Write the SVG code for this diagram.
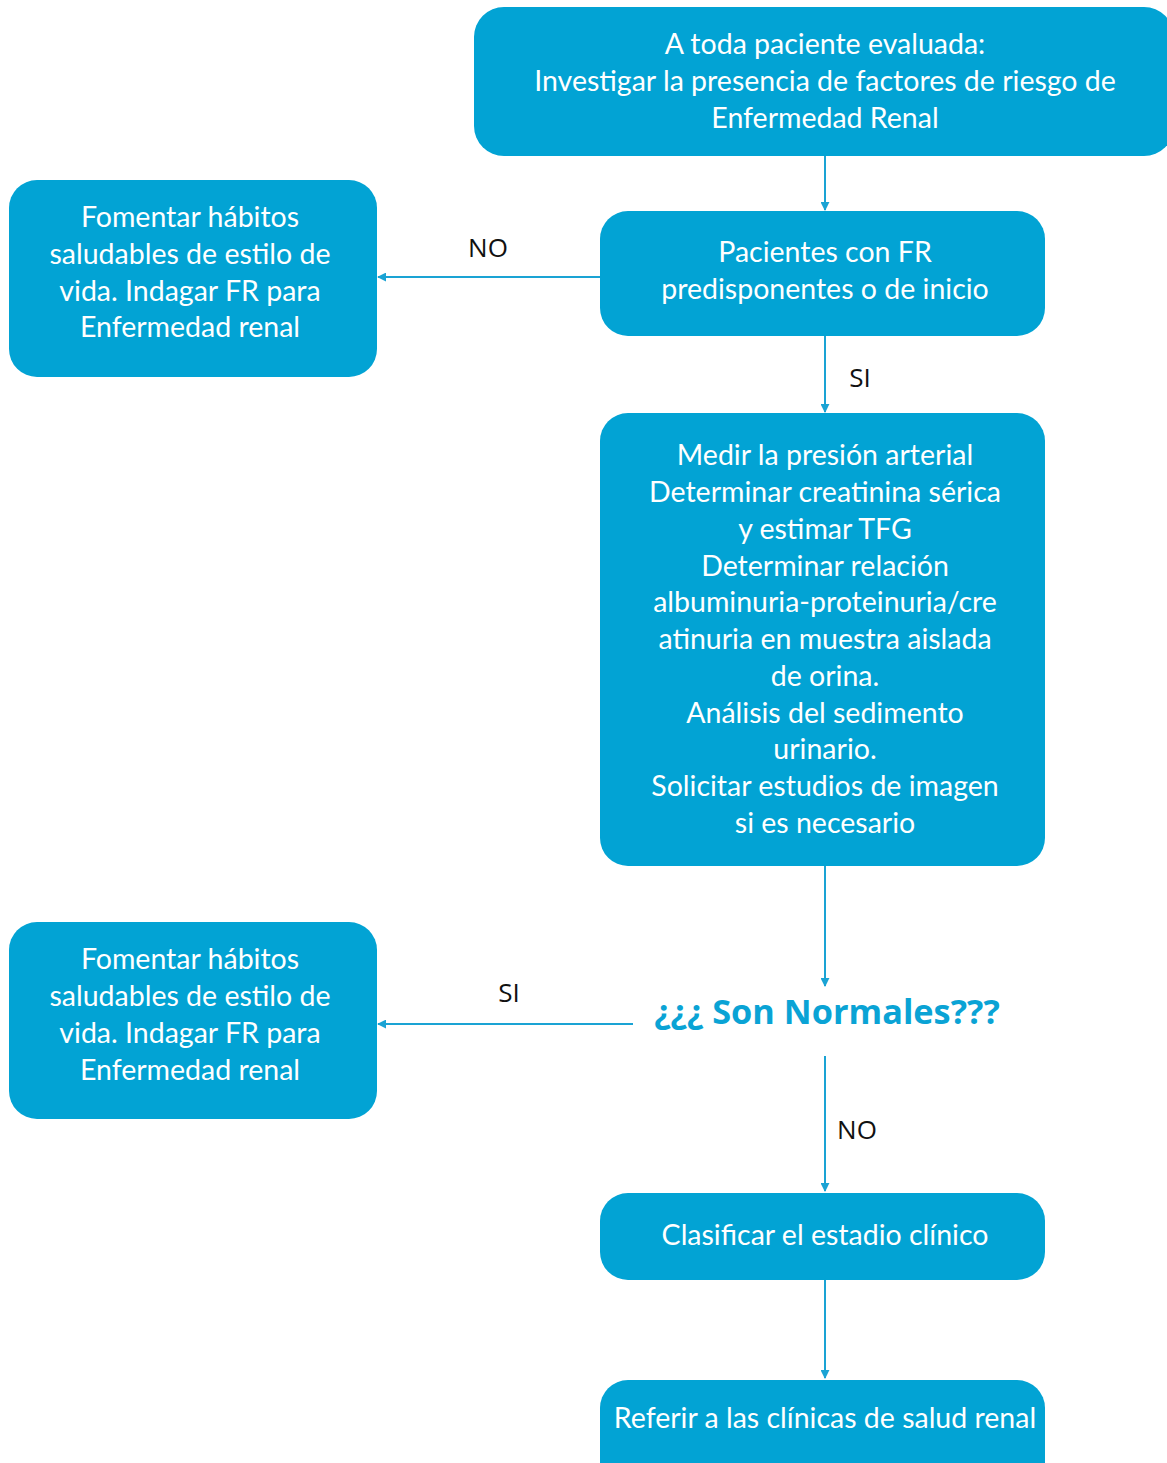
<svg xmlns="http://www.w3.org/2000/svg" width="1167" height="1463" viewBox="0 0 1167 1463">
  <defs>
    <marker id="arrow" viewBox="0 0 10 10" refX="9" refY="5" markerWidth="4.5" markerHeight="4.5" orient="auto-start-reverse" markerUnits="strokeWidth">
      <path d="M0,0 L10,5 L0,10 z" fill="#1aa3d4"/>
    </marker>
    <style>
      .box { fill: #02a3d4; }
      .bt { fill: #ffffff; font-family: Lato, "Open Sans", "Liberation Sans", sans-serif; font-size: 28.5px; text-anchor: middle; }
      .lbl { fill: #111111; font-family: "Open Sans", "Liberation Sans", sans-serif; font-size: 26px; text-anchor: middle; }
      .edge { stroke: #1aa3d4; stroke-width: 2; fill: none; marker-end: url(#arrow); }
      .q { fill: #0aa3d5; font-family: "Open Sans", "Liberation Sans", sans-serif; font-weight: bold; font-size: 34.3px; text-anchor: middle; }
    </style>
  </defs>
  <rect width="1167" height="1463" fill="#ffffff"/>

  <g id="connectors">
    <line class="edge" x1="825" y1="156" x2="825" y2="210"/>
    <line class="edge" x1="600" y1="277" x2="378" y2="277"/>
    <line class="edge" x1="825" y1="336" x2="825" y2="412"/>
    <line class="edge" x1="825" y1="866" x2="825" y2="986"/>
    <line class="edge" x1="633" y1="1024" x2="378" y2="1024"/>
    <line class="edge" x1="825" y1="1056" x2="825" y2="1191"/>
    <line class="edge" x1="825" y1="1280" x2="825" y2="1378"/>
    <text class="lbl" x="488" y="257">NO</text>
    <text class="lbl" x="860" y="387">SI</text>
    <text class="lbl" x="509" y="1002">SI</text>
    <text class="lbl" x="857" y="1139">NO</text>
  </g>

  <g id="start">
    <rect class="box" x="474" y="7" width="700" height="149" rx="30"/>
    <text class="bt" x="825" y="54">A toda paciente evaluada:</text>
    <text class="bt" x="825" y="91">Investigar la presencia de factores de riesgo de</text>
    <text class="bt" x="825" y="128">Enfermedad Renal</text>
  </g>

  <g id="risk-factors">
    <rect class="box" x="600" y="211" width="445" height="125" rx="28"/>
    <text class="bt" x="825" y="262">Pacientes con FR</text>
    <text class="bt" x="825" y="299">predisponentes o de inicio</text>
  </g>

  <g id="healthy-habits-1">
    <rect class="box" x="9" y="180" width="368" height="197" rx="28"/>
    <text class="bt" x="190" y="227">Fomentar hábitos</text>
    <text class="bt" x="190" y="264">saludables de estilo de</text>
    <text class="bt" x="190" y="301">vida. Indagar FR para</text>
    <text class="bt" x="190" y="337">Enfermedad renal</text>
  </g>

  <g id="studies">
    <rect class="box" x="600" y="413" width="445" height="453" rx="28"/>
    <text class="bt" x="825" y="465">Medir la presión arterial</text>
    <text class="bt" x="825" y="502">Determinar creatinina sérica</text>
    <text class="bt" x="825" y="539">y estimar TFG</text>
    <text class="bt" x="825" y="576">Determinar relación</text>
    <text class="bt" x="825" y="612">albuminuria-proteinuria/cre</text>
    <text class="bt" x="825" y="649">atinuria en muestra aislada</text>
    <text class="bt" x="825" y="686">de orina.</text>
    <text class="bt" x="825" y="723">Análisis del sedimento</text>
    <text class="bt" x="825" y="759">urinario.</text>
    <text class="bt" x="825" y="796">Solicitar estudios de imagen</text>
    <text class="bt" x="825" y="833">si es necesario</text>
  </g>

  <g id="normal-question">
    <text class="q" x="827" y="1024">¿¿¿ Son Normales???</text>
  </g>

  <g id="healthy-habits-2">
    <rect class="box" x="9" y="922" width="368" height="197" rx="28"/>
    <text class="bt" x="190" y="969">Fomentar hábitos</text>
    <text class="bt" x="190" y="1006">saludables de estilo de</text>
    <text class="bt" x="190" y="1043">vida. Indagar FR para</text>
    <text class="bt" x="190" y="1080">Enfermedad renal</text>
  </g>

  <g id="classify">
    <rect class="box" x="600" y="1193" width="445" height="87" rx="28"/>
    <text class="bt" x="825" y="1245">Clasificar el estadio clínico</text>
  </g>

  <g id="refer">
    <rect class="box" x="600" y="1380" width="445" height="110" rx="28"/>
    <text class="bt" x="825" y="1428">Referir a las clínicas de salud renal</text>
  </g>
</svg>
